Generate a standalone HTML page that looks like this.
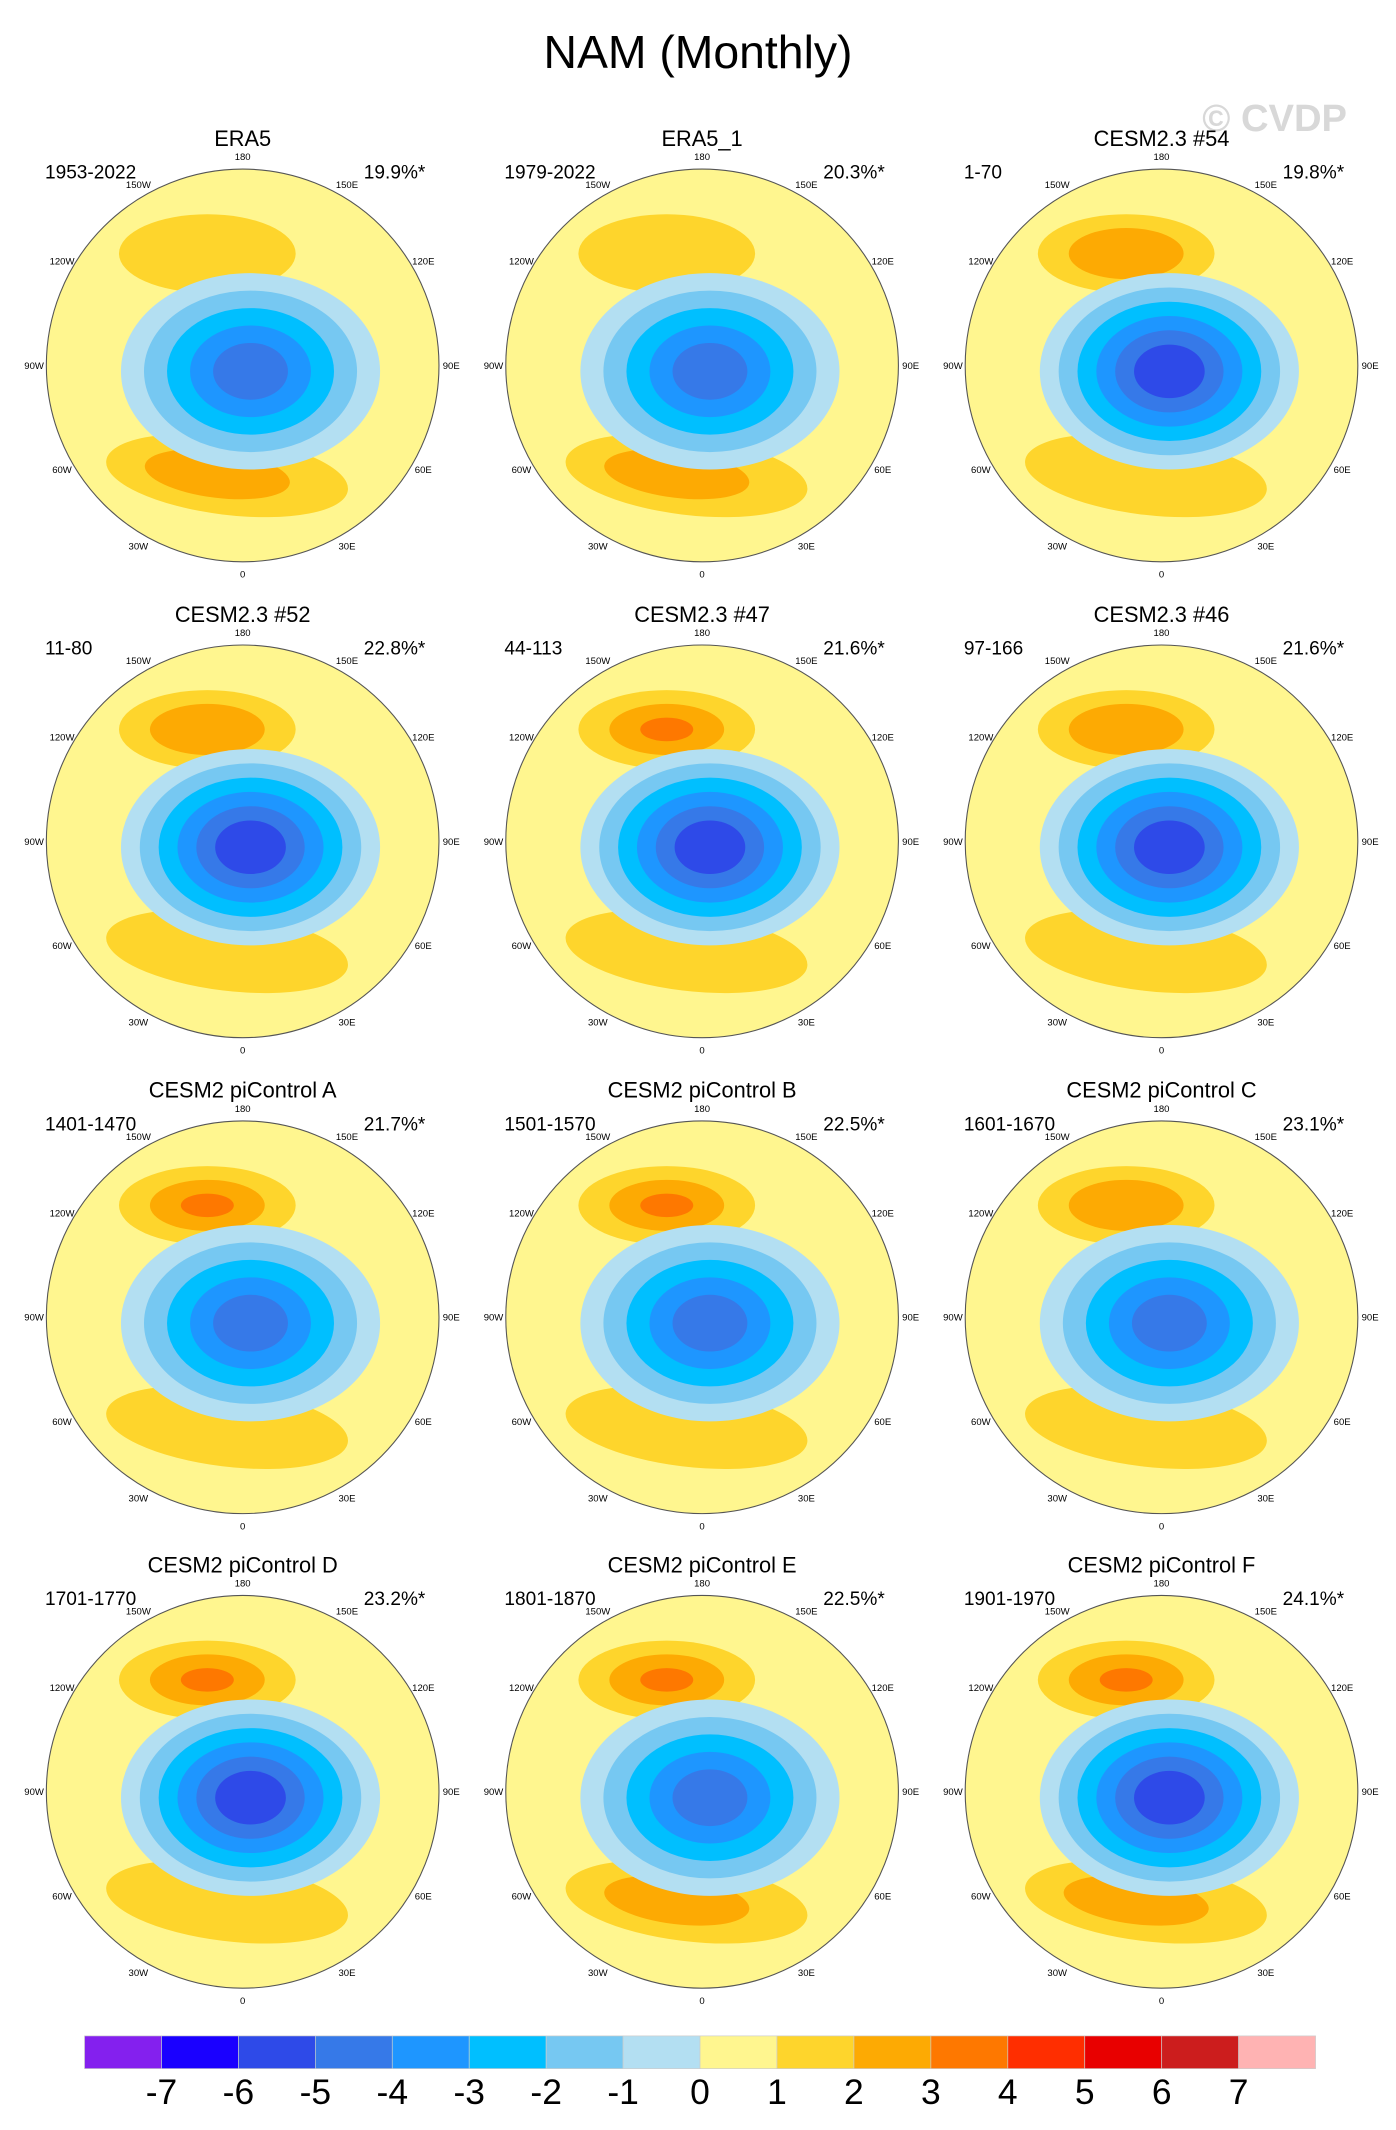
<!DOCTYPE html>
<html><head><meta charset="utf-8"><style>
html,body{margin:0;padding:0;background:#fff}
svg{display:block}
text{font-family:"Liberation Sans",sans-serif}
</style></head><body>
<svg id="fig" xmlns="http://www.w3.org/2000/svg" width="1396" height="2130" viewBox="0 0 1024 1562" preserveAspectRatio="none">
<text x="512" y="50" font-size="34" text-anchor="middle">NAM (Monthly)</text>
<text x="935" y="96" font-size="28" font-weight="bold" text-anchor="middle" fill="#d8d8d8">© CVDP</text>
<g id="panels"></g>
<g id="cbar"></g>
</svg>
<script>
const NS="http://www.w3.org/2000/svg";
const titles=["ERA5","ERA5_1","CESM2.3 #54","CESM2.3 #52","CESM2.3 #47","CESM2.3 #46","CESM2 piControl A","CESM2 piControl B","CESM2 piControl C","CESM2 piControl D","CESM2 piControl E","CESM2 piControl F"];
const periods=["1953-2022","1979-2022","1-70","11-80","44-113","97-166","1401-1470","1501-1570","1601-1670","1701-1770","1801-1870","1901-1970"];
const pcts=["19.9%*","20.3%*","19.8%*","22.8%*","21.6%*","21.6%*","21.7%*","22.5%*","23.1%*","23.2%*","22.5%*","24.1%*"];
const pacificMax=[1,1,2,2,3,2,3,3,2,3,3,3];
const atlanticMax=[2,2,1,1,1,1,1,1,1,1,2,2];
const centerMin=[-5,-5,-6,-6,-6,-6,-5,-5,-5,-6,-5,-6];
const levels=[-7,-6,-5,-4,-3,-2,-1,0,1,2,3,4,5,6,7];
const colors=["#8420ee","#1a00ff","#2e4ae8","#3679e8","#1e96ff","#00bfff","#76c8f2","#b3dff2","#fff68f","#fed52c","#fdaa03","#fe7800","#ff2e00","#e80000","#cc1d1d","#ffb3b3"];
function ci(v){let i=0;while(i<levels.length&&v>=levels[i])i++;return i;}
const panels=document.getElementById('panels');
const cxs=[178,515,852],cys=[268,617,966,1314],R=144;
function mk(tag,attrs,parent){const e=document.createElementNS(NS,tag);for(const k in attrs)e.setAttribute(k,attrs[k]);parent.appendChild(e);return e;}
const lonLabels=[["180",180],["150E",150],["120E",120],["90E",90],["60E",60],["30E",30],["0",0],["30W",-30],["60W",-60],["90W",-90],["120W",-120],["150W",-150]];
titles.forEach((t,i)=>{
  const cx=cxs[i%3],cy=cys[Math.floor(i/3)];
  const g=mk('g',{},panels);
  
  
  const clipId='c'+i;
  const cp=mk('clipPath',{id:clipId},g);mk('circle',{cx:cx,cy:cy,r:R},cp);
  const m=mk('g',{'clip-path':'url(#'+clipId+')'},g);
  mk('rect',{x:cx-R,y:cy-R,width:2*R,height:2*R,fill:colors[8]},m);
  for(let l=1;l<=pacificMax[i];l++){
    const s=1-(l-1)*0.35;
    const e=mk('ellipse',{cx:cx-0.18*R,cy:cy-0.57*R,rx:0.45*R*s,ry:0.2*R*s,fill:colors[ci(l)]},m);
    
    
  }
  for(let l=1;l<=atlanticMax[i];l++){
    const s=1-(l-1)*0.4;
    const e=mk('ellipse',{cx:cx-0.08*R+(l-1)*(-0.05*R),cy:cy+0.57*R,rx:0.62*R*s,ry:0.2*R*s,fill:colors[ci(l)],transform:'rotate(7 '+cx+' '+(cy+0.57*R)+')'},m);
    
    
  }
  for(let l=-0.5;l>=centerMin[i];l--){
    const f=(l+0.5)/(centerMin[i]+0.5);
    const s=1-f*0.8;
    const e=mk('ellipse',{cx:cx+0.04*R,cy:cy+0.03*R,rx:0.66*R*s,ry:0.5*R*s,fill:colors[ci(l)]},m);
    
    
  }
  mk('circle',{cx:cx,cy:cy,r:R,fill:'none',stroke:'#555','stroke-width':0.8},g);
  lonLabels.forEach(([lab,lon])=>{
    const a=lon*Math.PI/180;
    const x=cx+Math.sin(a)*(R+9),y=cy+Math.cos(a)*(R+9)+2.5;
    const tx=mk('text',{x:x,y:y,'font-size':7,'text-anchor':'middle'},g);tx.textContent=lab;
    
    
  });
  const tt=mk('text',{x:cx,y:cy-161,'font-size':16,'text-anchor':'middle'},g);tt.textContent=t;
  
  
  const tp=mk('text',{x:cx-145,y:cy-137,'font-size':14},g);tp.textContent=periods[i];
  
  
  const tc=mk('text',{x:cx+134,y:cy-137,'font-size':14,'text-anchor':'end'},g);tc.textContent=pcts[i];
  
  
});
const cb=document.getElementById('cbar');
const x0=62,x1=965,w=(x1-x0)/colors.length;
colors.forEach((c,k)=>{
  const r=mk('rect',{x:x0+k*w,y:1493,width:w,height:24,fill:c,stroke:'#ccc','stroke-width':0.5},cb);
  
  
});
levels.forEach((v,k)=>{
  const t=mk('text',{x:x0+(k+1)*w,y:1543,'font-size':26,'text-anchor':'middle'},cb);t.textContent=v;
  
  
});
</script>
</body></html>
